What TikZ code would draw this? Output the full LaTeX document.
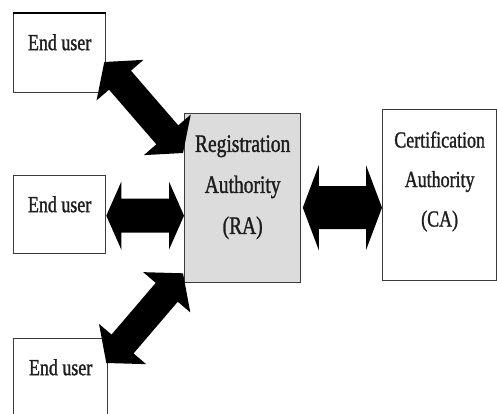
\documentclass[tikz,border=0pt]{standalone}
\usepackage{fontspec}
\setmainfont{Liberation Serif}[FakeStretch=0.78,FakeBold=1.2]
\usetikzlibrary{calc}
\definecolor{boxline}{HTML}{3A3A3A}
\definecolor{rafill}{HTML}{DCDCDC}
\definecolor{txt}{HTML}{1E1E1E}
\tikzset{
  arrowfill/.style={fill=black},
  userbox/.style={draw=boxline, line width=1.3pt, fill=white, minimum width=92pt,
    inner xsep=0pt, inner ysep=0pt, text height=36.5pt, anchor=north west,
    font=\fontsize{23}{28}\selectfont, text=txt},
  rabox/.style={draw=boxline, line width=1.3pt, fill=rafill, minimum width=116pt,
    minimum height=169pt, inner sep=0pt, anchor=north west,
    font=\fontsize{25}{41}\selectfont, text=txt},
  cabox/.style={draw=boxline, line width=1.3pt, fill=white, minimum width=114pt,
    minimum height=171pt, inner sep=0pt, anchor=north west,
    font=\fontsize{23}{39.5}\selectfont, text=txt},
}
\newcommand{\fatarrow}[5]{%
  \fill[arrowfill] (#1)
   -- ($(#1)!#5!(#2)!#4!90:(#2)$)
   -- ($(#1)!#5!(#2)!#3!90:(#2)$)
   -- ($(#2)!#5!(#1)!#3!-90:(#1)$)
   -- ($(#2)!#5!(#1)!#4!-90:(#1)$)
   -- (#2)
   -- ($(#2)!#5!(#1)!#4!90:(#1)$)
   -- ($(#2)!#5!(#1)!#3!90:(#1)$)
   -- ($(#1)!#5!(#2)!#3!-90:(#2)$)
   -- ($(#1)!#5!(#2)!#4!-90:(#2)$)
   -- cycle;}
\begin{document}
\begin{tikzpicture}[x=1pt,y=-1pt]
  \useasboundingbox[fill=white] (0,0) rectangle (497,414);

  \node[userbox, text depth=42.5pt] (u1) at (13,13) {End user};
  \draw[line width=2.8pt] (u1.north west) -- (u1.north east);
  \node[userbox, text depth=41.5pt] (u2) at (13,175) {End user};
  \node[userbox, minimum width=94pt, text depth=57.5pt] (u3) at (13,338) {End user};

  \node[rabox] (ra) at (184,113)
    {\begin{tabular}{@{}c@{}}Registration\\Authority\\(RA)\\[27pt]\end{tabular}};
  \node[cabox] (ca) at (382,109)
    {\begin{tabular}{@{}c@{}}Certification\\Authority\\(CA)\\[32pt]\end{tabular}};

  \coordinate (t1) at ($(u1.north east)+(-2,49)$);
  \coordinate (t2) at ($(ra.north west)+(-1,40)$);
  \coordinate (m1) at ($(u2.east)+(0,1)$);
  \coordinate (m2) at ($(ra.west)+(0,17.5)$);
  \coordinate (b1) at ($(u3.north east)+(-2,25)$);
  \coordinate (b2) at ($(ra.south west)+(-1,-10)$);
  \coordinate (c1) at ($(ra.east)+(1.5,9.5)$);
  \coordinate (c2) at ($(ca.west)+(0,12.5)$);

  \fatarrow{t1}{t2}{14.5pt}{31pt}{24pt}
  \fatarrow{m1}{m2}{17pt}{34pt}{15pt}
  \fatarrow{b1}{b2}{14.5pt}{31pt}{25pt}
  \fatarrow{c1}{c2}{21.5pt}{42.5pt}{16pt}
\end{tikzpicture}
\end{document}
